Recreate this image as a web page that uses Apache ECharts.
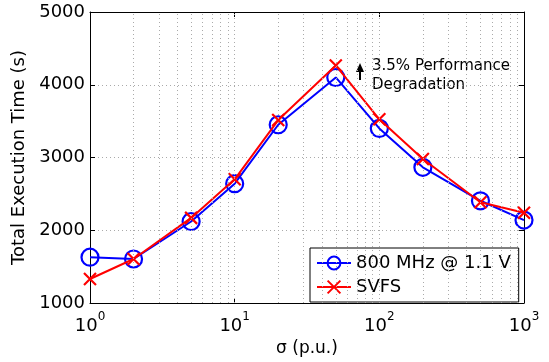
<!DOCTYPE html>
<html><head><meta charset="utf-8">
<script src="https://cdn.jsdelivr.net/npm/echarts@6/dist/echarts.min.js"></script>
<style>html,body{margin:0;padding:0;background:#fff}#c{width:549px;height:362px}</style>
</head><body><div id="c"></div>
<script>
const sigma = [1, 2, 5, 10, 20, 50, 100, 200, 500, 1000];
const fixed800 = [1630, 1605, 2120, 2640, 3450, 4100, 3400, 2865, 2405, 2140];
const svfs = [1330, 1605, 2170, 2700, 3515, 4265, 3525, 2980, 2385, 2240];
const gridX = [2,3,4,5,6,7,8,9,10,20,30,40,50,60,70,80,90,100,200,300,400,500,600,700,800,900];
const yTicks = [1000, 2000, 3000, 4000, 5000];
const seriesNames = ['800 MHz @ 1.1 V', 'SVFS'];
const FONT = 'DejaVu Sans';

const chart = echarts.init(document.getElementById('c'), null, {renderer: 'canvas'});
const dotted = {color: '#aaa', width: 1, type: [1, 3]};
const axisLineBlack = {show: true, lineStyle: {color: '#000', width: 1}};
const supLabel = v => {
  const e = Math.round(Math.log10(v));
  return '{b|10}{s|' + e + '}';
};
chart.setOption({
  animation: false,
  textStyle: {fontFamily: FONT},
  grid: {left: 90, right: 25, top: 12, bottom: 56},
  xAxis: [{
    type: 'log', logBase: 10, min: 1, max: 1000,
    name: 'σ (p.u.)', nameLocation: 'middle', nameGap: 37,
    nameTextStyle: {fontSize: 17, color: '#000', fontFamily: FONT},
    axisLine: axisLineBlack,
    axisTick: {show: true, inside: true, length: 5, lineStyle: {color: '#000'}},
    splitLine: {show: false},
    axisLabel: {
      margin: 8, formatter: supLabel,
      rich: {
        b: {fontSize: 18, color: '#000', fontFamily: FONT, lineHeight: 24, verticalAlign: 'bottom'},
        s: {fontSize: 12, color: '#000', fontFamily: FONT, lineHeight: 24, verticalAlign: 'top'}
      }
    }
  }, {
    type: 'log', logBase: 10, min: 1, max: 1000, position: 'top',
    axisLine: axisLineBlack,
    axisTick: {show: true, inside: true, length: 5, lineStyle: {color: '#000'}},
    axisLabel: {show: false}, splitLine: {show: false}
  }],
  yAxis: [{
    type: 'value', min: 1000, max: 5000, interval: 1000,
    name: 'Total Execution Time (s)', nameLocation: 'middle', nameGap: 52,
    nameTextStyle: {fontSize: 18, color: '#000', fontFamily: FONT},
    axisLine: axisLineBlack,
    axisTick: {show: true, inside: true, length: 5, lineStyle: {color: '#000'}},
    axisLabel: {fontSize: 18, color: '#000', margin: 5, fontFamily: FONT, formatter: v => String(v)},
    splitLine: {show: true, lineStyle: dotted}
  }, {
    type: 'value', min: 1000, max: 5000, interval: 1000, position: 'right',
    axisLine: axisLineBlack,
    axisTick: {show: true, inside: true, length: 5, lineStyle: {color: '#000'}},
    axisLabel: {show: false}, splitLine: {show: false}
  }],
  legend: {
    orient: 'vertical', left: 310, top: 248,
    data: seriesNames,
    itemWidth: 34, itemHeight: 16, itemGap: 2,
    padding: [4, 8, 4, 6],
    borderColor: '#000', borderWidth: 1, backgroundColor: '#fff',
    textStyle: {fontSize: 18, color: '#000', fontFamily: FONT, lineHeight: 22}
  },
  graphic: [
    {type: 'line', shape: {x1: 360, y1: 80, x2: 360, y2: 68}, style: {stroke: '#000', lineWidth: 2}},
    {type: 'polygon', shape: {points: [[356, 72], [360, 63], [364, 72]]}, style: {fill: '#000'}},
    {type: 'text', left: 372, top: 57, style: {text: '3.5% Performance\nDegradation', font: '15px "DejaVu Sans"', fill: '#000', lineHeight: 19}}
  ],
  series: [{
    name: 'grid', type: 'line', data: [], silent: true,
    markLine: {
      silent: true, symbol: 'none', label: {show: false},
      lineStyle: dotted, animation: false,
      data: gridX.map(v => ({xAxis: v}))
    }
  }, {
    name: seriesNames[0], type: 'line',
    data: sigma.map((x, i) => [x, fixed800[i]]),
    symbol: 'circle', symbolSize: 17,
    lineStyle: {color: '#0000ff', width: 2},
    itemStyle: {color: 'rgba(0,0,0,0)', borderColor: '#0000ff', borderWidth: 2.2},
    z: 3
  }, {
    name: seriesNames[1], type: 'line',
    data: sigma.map((x, i) => [x, svfs[i]]),
    symbol: 'path://M0,0L10,10M10,0L0,10', symbolSize: 12,
    lineStyle: {color: '#ff0000', width: 2},
    itemStyle: {color: '#ff0000', borderColor: '#ff0000', borderWidth: 2.2},
    z: 4
  }]
});
</script></body></html>
